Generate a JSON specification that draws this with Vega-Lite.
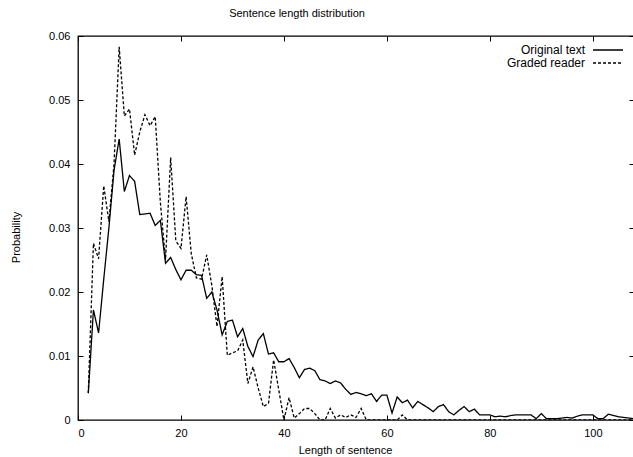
{
  "$schema": "https://vega.github.io/schema/vega-lite/v6.json",
  "width": 556,
  "height": 384,
  "autosize": "none",
  "padding": {"left": 78, "top": 36, "right": 0, "bottom": 37},
  "background": "white",
  "title": {"text": "Sentence length distribution", "fontSize": 11, "fontWeight": "normal", "font": "Liberation Sans", "anchor": "middle", "dx": -59, "offset": 11, "color": "black"},
  "config": {"view": {"stroke": "black", "strokeWidth": 1.3}, "font": "Liberation Sans"},
  "data": {"values": [
    {"len":2,"Original text":0.0042,"Graded reader":0.0042},
    {"len":3,"Original text":0.0172,"Graded reader":0.0276},
    {"len":4,"Original text":0.0136,"Graded reader":0.0252},
    {"len":5,"Original text":0.022,"Graded reader":0.0366},
    {"len":6,"Original text":0.030,"Graded reader":0.031},
    {"len":7,"Original text":0.039,"Graded reader":0.04},
    {"len":8,"Original text":0.0439,"Graded reader":0.0583},
    {"len":9,"Original text":0.0357,"Graded reader":0.0475},
    {"len":10,"Original text":0.0382,"Graded reader":0.0486},
    {"len":11,"Original text":0.0373,"Graded reader":0.0414},
    {"len":12,"Original text":0.0321,"Graded reader":0.045},
    {"len":13,"Original text":0.0322,"Graded reader":0.0477},
    {"len":14,"Original text":0.0323,"Graded reader":0.046},
    {"len":15,"Original text":0.0304,"Graded reader":0.0474},
    {"len":16,"Original text":0.0312,"Graded reader":0.034},
    {"len":17,"Original text":0.0245,"Graded reader":0.025},
    {"len":18,"Original text":0.0254,"Graded reader":0.041},
    {"len":19,"Original text":0.0235,"Graded reader":0.028},
    {"len":20,"Original text":0.0219,"Graded reader":0.0268},
    {"len":21,"Original text":0.0234,"Graded reader":0.0349},
    {"len":22,"Original text":0.0234,"Graded reader":0.026},
    {"len":23,"Original text":0.0227,"Graded reader":0.0222},
    {"len":24,"Original text":0.0226,"Graded reader":0.022},
    {"len":25,"Original text":0.019,"Graded reader":0.0258},
    {"len":26,"Original text":0.02,"Graded reader":0.021},
    {"len":27,"Original text":0.0172,"Graded reader":0.0146},
    {"len":28,"Original text":0.0133,"Graded reader":0.0224},
    {"len":29,"Original text":0.0154,"Graded reader":0.0101},
    {"len":30,"Original text":0.0156,"Graded reader":0.0105},
    {"len":31,"Original text":0.013,"Graded reader":0.0108},
    {"len":32,"Original text":0.0143,"Graded reader":0.0125},
    {"len":33,"Original text":0.0115,"Graded reader":0.0057},
    {"len":34,"Original text":0.0099,"Graded reader":0.0083},
    {"len":35,"Original text":0.0125,"Graded reader":0.005},
    {"len":36,"Original text":0.0135,"Graded reader":0.0021},
    {"len":37,"Original text":0.0103,"Graded reader":0.0026},
    {"len":38,"Original text":0.0105,"Graded reader":0.0094},
    {"len":39,"Original text":0.0091,"Graded reader":0.0047},
    {"len":40,"Original text":0.0091,"Graded reader":0},
    {"len":41,"Original text":0.0096,"Graded reader":0.0035},
    {"len":42,"Original text":0.0082,"Graded reader":0.0003},
    {"len":43,"Original text":0.0066,"Graded reader":0.001},
    {"len":44,"Original text":0.0079,"Graded reader":0.0018},
    {"len":45,"Original text":0.0081,"Graded reader":0.0018},
    {"len":46,"Original text":0.0077,"Graded reader":0.001},
    {"len":47,"Original text":0.0063,"Graded reader":0},
    {"len":48,"Original text":0.0061,"Graded reader":0},
    {"len":49,"Original text":0.0057,"Graded reader":0.0018},
    {"len":50,"Original text":0.0061,"Graded reader":0.0003},
    {"len":51,"Original text":0.0058,"Graded reader":0.0008},
    {"len":52,"Original text":0.0048,"Graded reader":0.0004},
    {"len":53,"Original text":0.004,"Graded reader":0.0008},
    {"len":54,"Original text":0.0043,"Graded reader":0.0004},
    {"len":55,"Original text":0.0041,"Graded reader":0.0018},
    {"len":56,"Original text":0.0038,"Graded reader":0},
    {"len":57,"Original text":0.0041,"Graded reader":0},
    {"len":58,"Original text":0.0029,"Graded reader":0},
    {"len":59,"Original text":0.0039,"Graded reader":0},
    {"len":60,"Original text":0.0039,"Graded reader":0},
    {"len":61,"Original text":0.0011,"Graded reader":0},
    {"len":62,"Original text":0.0036,"Graded reader":0},
    {"len":63,"Original text":0.0027,"Graded reader":0.0008},
    {"len":64,"Original text":0.0031,"Graded reader":0},
    {"len":65,"Original text":0.0019,"Graded reader":0},
    {"len":66,"Original text":0.0029,"Graded reader":0},
    {"len":67,"Original text":0.0024,"Graded reader":0},
    {"len":68,"Original text":0.0019,"Graded reader":0},
    {"len":69,"Original text":0.0013,"Graded reader":0},
    {"len":70,"Original text":0.0021,"Graded reader":0},
    {"len":71,"Original text":0.0024,"Graded reader":0},
    {"len":72,"Original text":0.0013,"Graded reader":0},
    {"len":73,"Original text":0.0008,"Graded reader":0},
    {"len":74,"Original text":0.0015,"Graded reader":0},
    {"len":75,"Original text":0.0021,"Graded reader":0},
    {"len":76,"Original text":0.0013,"Graded reader":0},
    {"len":77,"Original text":0.0017,"Graded reader":0},
    {"len":78,"Original text":0.0008,"Graded reader":0},
    {"len":79,"Original text":0.0008,"Graded reader":0},
    {"len":80,"Original text":0.0008,"Graded reader":0},
    {"len":81,"Original text":0.0005,"Graded reader":0},
    {"len":82,"Original text":0.0006,"Graded reader":0},
    {"len":83,"Original text":0.0005,"Graded reader":0},
    {"len":84,"Original text":0.0007,"Graded reader":0},
    {"len":85,"Original text":0.0008,"Graded reader":0},
    {"len":86,"Original text":0.0008,"Graded reader":0},
    {"len":87,"Original text":0.0008,"Graded reader":0},
    {"len":88,"Original text":0.0008,"Graded reader":0},
    {"len":89,"Original text":0.0002,"Graded reader":0},
    {"len":90,"Original text":0.001,"Graded reader":0},
    {"len":91,"Original text":0.0002,"Graded reader":0},
    {"len":92,"Original text":0.0002,"Graded reader":0},
    {"len":93,"Original text":0.0002,"Graded reader":0},
    {"len":94,"Original text":0.0003,"Graded reader":0},
    {"len":95,"Original text":0.0004,"Graded reader":0},
    {"len":96,"Original text":0.0003,"Graded reader":0},
    {"len":97,"Original text":0.0006,"Graded reader":0},
    {"len":98,"Original text":0.0008,"Graded reader":0},
    {"len":99,"Original text":0.0008,"Graded reader":0},
    {"len":100,"Original text":0.0008,"Graded reader":0},
    {"len":101,"Original text":0.0002,"Graded reader":0},
    {"len":102,"Original text":0.0002,"Graded reader":0},
    {"len":103,"Original text":0.0009,"Graded reader":0},
    {"len":104,"Original text":0.0007,"Graded reader":0},
    {"len":105,"Original text":0.0005,"Graded reader":0},
    {"len":106,"Original text":0.0004,"Graded reader":0},
    {"len":107,"Original text":0.0003,"Graded reader":0},
    {"len":108,"Original text":0.0002,"Graded reader":0}
  ]},
  "transform": [{"fold": ["Original text", "Graded reader"], "as": ["series", "p"]}],
  "layer": [
    {
      "mark": {"type": "line", "strokeWidth": 1.3, "clip": true},
      "encoding": {
        "x": {"field": "len", "type": "quantitative", "scale": {"domain": [0, 108], "nice": false},
          "axis": {"title": "Length of sentence", "values": [0,20,40,60,80,100], "grid": false, "domain": false, "tickSize": -5, "tickColor": "black", "tickWidth": 1, "labelPadding": 12, "labelFontSize": 11, "labelColor": "black", "titleFontSize": 11, "titleFontWeight": "normal", "titleColor": "black", "titleX": 267, "titleY": 24}},
        "y": {"field": "p", "type": "quantitative", "scale": {"domain": [0, 0.06], "nice": false},
          "axis": {"title": "Probability", "values": [0,0.01,0.02,0.03,0.04,0.05,0.06], "labelExpr": "datum.value == 0 ? '0' : format(datum.value, '.2f')", "grid": false, "domain": false, "tickSize": -5, "tickColor": "black", "tickWidth": 1, "labelPadding": 13, "labelFontSize": 11, "labelColor": "black", "titleFontSize": 11, "titleFontWeight": "normal", "titleColor": "black", "titleX": -57, "titleY": 201}},
        "strokeDash": {"field": "series", "type": "nominal", "scale": {"domain": ["Original text", "Graded reader"], "range": [[1, 0], [3, 2]]},
          "legend": {"title": null, "orient": "none", "legendX": 524, "legendY": 8, "symbolType": "M-3,0H3", "symbolSize": 100, "symbolStrokeColor": "black", "symbolStrokeWidth": 1.3, "symbolFillColor": "transparent", "labelAlign": "right", "labelOffset": -29, "labelFontSize": 12, "labelColor": "black", "padding": 0, "rowPadding": 1}},
        "color": {"value": "black"}
      }
    },
    {
      "mark": {"type": "line", "strokeOpacity": 0},
      "encoding": {
        "x": {"field": "len", "type": "quantitative", "axis": {"orient": "top", "title": null, "labels": false, "values": [0,20,40,60,80,100], "grid": false, "domain": false, "tickSize": -5, "tickWidth": 1, "tickColor": "black"}},
        "y": {"field": "p", "type": "quantitative", "axis": {"orient": "right", "title": null, "labels": false, "values": [0,0.01,0.02,0.03,0.04,0.05,0.06], "grid": false, "domain": false, "tickSize": -5, "tickWidth": 1, "tickColor": "black"}}
      }
    }
  ],
  "resolve": {"axis": {"x": "independent", "y": "independent"}}
}
